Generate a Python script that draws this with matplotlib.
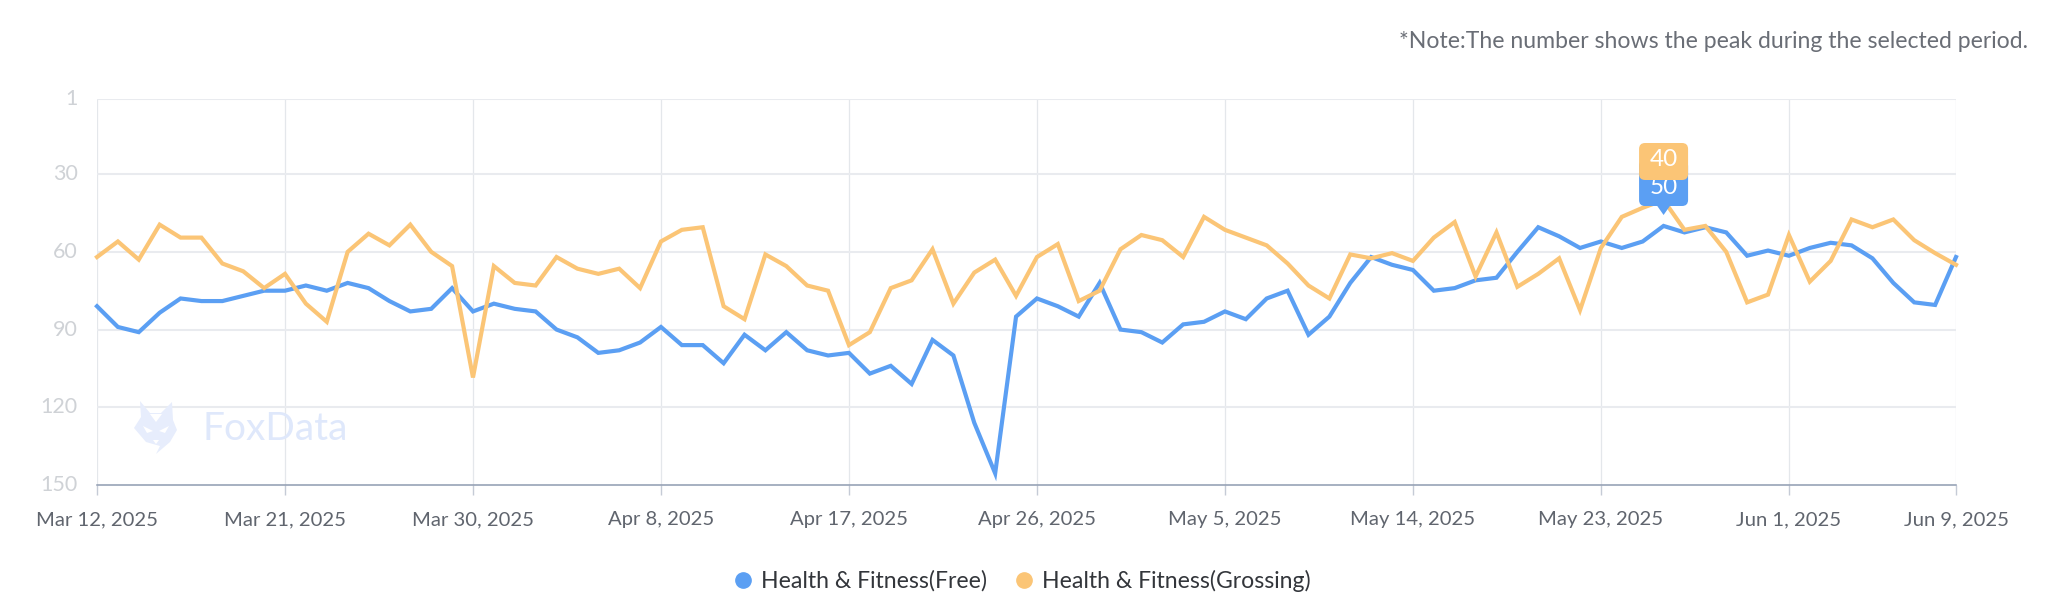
import datetime as dt
import matplotlib
matplotlib.use("Agg")
import matplotlib.pyplot as plt
from matplotlib.lines import Line2D
from matplotlib.patches import FancyBboxPatch, Polygon
from matplotlib.transforms import IdentityTransform, Affine2D

plt.rcParams['font.family'] = ['Lato', 'DejaVu Sans']

start_date = dt.date(2025, 3, 12)
tick_indices = [0, 9, 18, 27, 36, 45, 54, 63, 72, 81, 89]
y_ticks = [1, 30, 60, 90, 120, 150]

free_rank = [81, 89, 91, 83.5, 78, 79, 79, 77, 75, 75,
             73, 75, 72, 74, 79, 83, 82, 74, 83, 80,
             82, 83, 90, 93, 99, 98, 95, 89, 96, 96,
             103, 92, 98, 91, 98, 100, 99, 107, 104, 111,
             94, 100, 126, 145.5, 85, 78, 81, 85, 72, 90,
             91, 95, 88, 87, 83, 86, 78, 75, 92, 85,
             72, 62, 65, 67, 75, 74, 71, 70, 60, 50.5,
             54, 58.5, 56, 58.5, 56, 50, 52.5, 50.5, 52.5, 61.5,
             59.5, 61.5, 58.5, 56.5, 57.5, 62.5, 72, 79.5, 80.5, 62]
grossing_rank = [62, 56, 63, 49.5, 54.5, 54.5, 64.5, 67.5, 74, 68.5,
                 80, 87, 60, 53, 57.5, 49.5, 60, 65.5, 108.5, 65.5,
                 72, 73, 62, 66.5, 68.5, 66.5, 74, 56, 51.5, 50.5,
                 81, 86, 61, 65.5, 73, 75, 96, 91, 74, 71,
                 59, 80, 68, 63, 77, 62, 57, 79, 75, 59,
                 53.5, 55.5, 62, 46.5, 51.5, 54.5, 57.5, 64.5, 73, 78,
                 61, 62.5, 60.5, 63.5, 54.5, 48.5, 69.5, 52.5, 73.5, 68.5,
                 62.5, 82.5, 58.5, 46.5, 43, 40, 51.5, 50, 60, 79.5,
                 76.5, 53.5, 71.5, 63.5, 47.5, 50.5, 47.5, 55.5, 60.5, 65]
free_peak = 50
grossing_peak = 40
peak_index = 75

BLUE = '#5B9FF3'
ORANGE = '#FBC576'
GRID = '#E9EBEF'
W, H = 2048, 610

fig = plt.figure(figsize=(W / 100, H / 100), dpi=100, facecolor='white')
L, R, T, B = 97, 1956, 99, 485
ax = fig.add_axes([L / W, 1 - B / H, (R - L) / W, (B - T) / H])
ax.set_xlim(0, 89)
ax.set_ylim(150, 1)
for s in ax.spines.values():
    s.set_visible(False)
ax.spines['bottom'].set_visible(True)
ax.spines['bottom'].set_color('#8E9BB0')
ax.spines['bottom'].set_linewidth(1.1)

ax.set_yticks(y_ticks)
ax.set_xticks(tick_indices)
labels = [(start_date + dt.timedelta(days=i)).strftime('%b ') +
          str((start_date + dt.timedelta(days=i)).day) +
          (start_date + dt.timedelta(days=i)).strftime(', %Y') for i in tick_indices]
ax.set_xticklabels(labels, fontsize=14.6, color='#60656E')
ax.tick_params(axis='x', length=7, width=1, color='#C5CBD6', pad=12)
ax.tick_params(axis='y', length=0, pad=14, labelsize=15.5, labelcolor='#CFD2D6')
ax.grid(True, axis='y', color=GRID, lw=1.5, zorder=0)
ax.grid(True, axis='x', color='#E4E7EB', lw=0.9, zorder=0)
ax.set_axisbelow(True)
for t in ax.yaxis.get_gridlines()[-1:]:
    t.set_visible(False)
for lab in ax.get_yticklabels():
    lab.set_transform(lab.get_transform() + Affine2D().translate(0, 2))

# watermark
to_px = lambda pts: [(x, H - y) for x, y in pts]
fox = [(140, 401), (150, 413), (161, 413), (172, 402), (173, 420), (177, 430), (170, 442),
       (156, 454), (160, 446), (146, 442), (134, 428), (141, 417)]
fig.add_artist(Polygon(to_px(fox), closed=True, fc='#E7EDFC', ec='none', transform=IdentityTransform(), zorder=1))
for mark in ([(143, 426), (153, 431), (147, 433)], [(169, 426), (159, 431), (165, 433)],
             [(150, 414), (162, 414), (156, 422)], [(153, 440), (159, 440), (156, 444)]):
    fig.add_artist(Polygon(to_px(mark), closed=True, fc='white', ec='none', transform=IdentityTransform(), zorder=1))
fig.text(202 / W, 1 - 429 / H, 'FoxData', fontsize=28, color='#DFE8FB', va='center', ha='left', zorder=1)

x = list(range(len(free_rank)))
ax.plot(x, free_rank, color=BLUE, lw=3.0, solid_joinstyle='miter', zorder=3, clip_on=False)
ax.plot(x, grossing_rank, color=ORANGE, lw=3.0, solid_joinstyle='miter', zorder=4, clip_on=False)

# peak bubbles
cx = ax.transData.transform((peak_index, 50))[0]
def bubble(top, bottom, color, z):
    fig_patch = FancyBboxPatch((cx - 24.5 + 6, H - bottom + 6), 49 - 12, bottom - top - 12,
                               boxstyle='round,pad=6,rounding_size=6', fc=color, ec='none',
                               transform=IdentityTransform(), zorder=z)
    fig.add_artist(fig_patch)
tip = [(cx - 7, H - 205), (cx + 7, H - 205), (cx, H - 215)]
fig.add_artist(Polygon(tip, closed=True, fc=BLUE, ec='none', transform=IdentityTransform(), zorder=5))
bubble(160, 206, BLUE, 5)
bubble(143, 180, ORANGE, 6)
fig.text(cx, H - 187, str(free_peak), color='white', fontsize=17.5, ha='center', va='center', zorder=5.5,
         transform=IdentityTransform())
fig.text(cx, H - 160, str(grossing_peak), color='white', fontsize=17.5, ha='center', va='center', zorder=7,
         transform=IdentityTransform())

fig.text(2028 / W, 1 - 41 / H, '*Note:The number shows the peak during the selected period.',
         fontsize=16.6, color='#6A6E76', ha='right', va='center')

handles = [Line2D([], [], ls='none', marker='o', ms=11, color=BLUE, label='Health & Fitness(Free)'),
           Line2D([], [], ls='none', marker='o', ms=11, color=ORANGE, label='Health & Fitness(Grossing)')]
fig.legend(handles=handles, loc='center', bbox_to_anchor=(1020 / W, 1 - 581 / H), ncol=2, frameon=False,
           fontsize=16.6, labelcolor='#33363B', handletextpad=0.2, columnspacing=1.0, handlelength=1.2)

fig.savefig('out.png', dpi=100, facecolor='white')
